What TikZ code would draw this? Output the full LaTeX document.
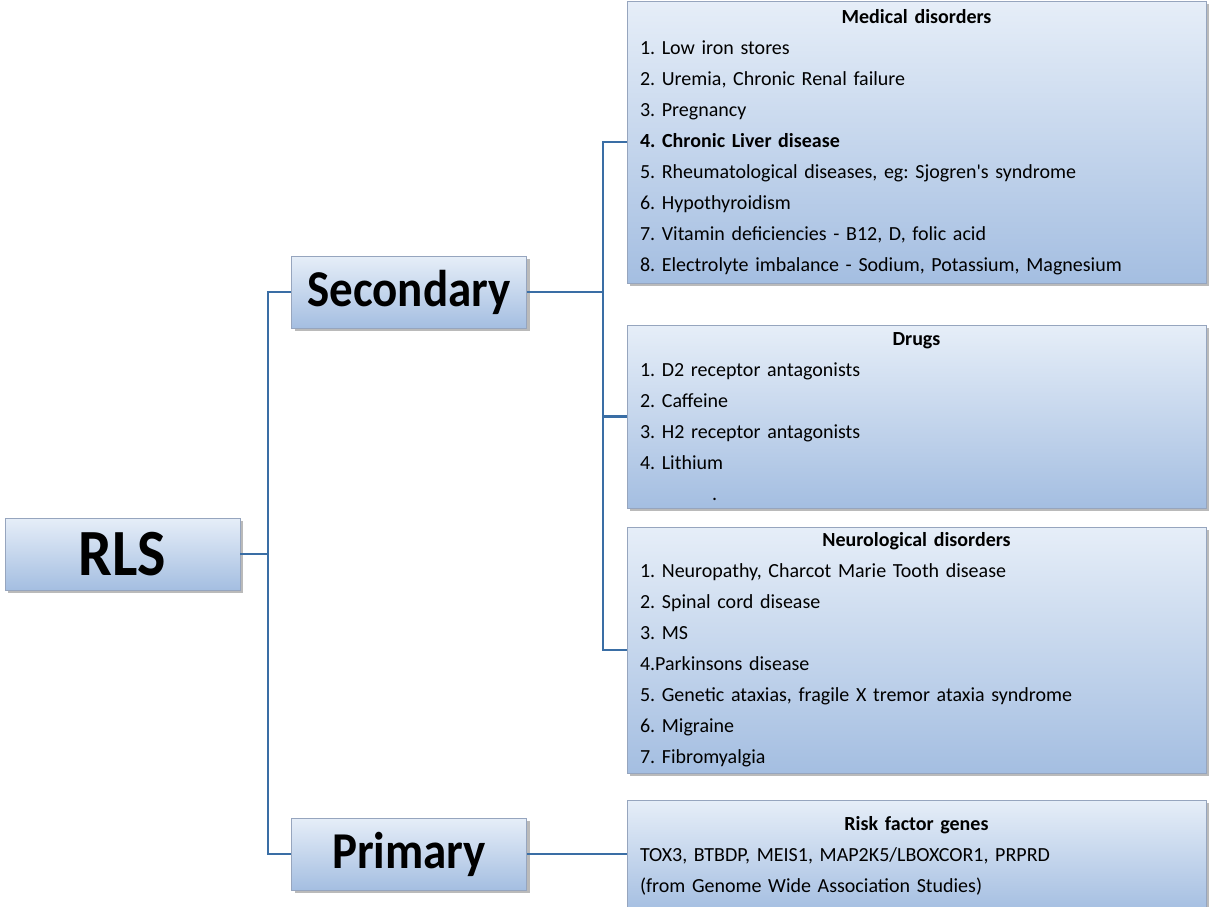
\documentclass[tikz,border=0pt]{standalone}
\usepackage{fontspec}
\setmainfont{Carlito}
\usetikzlibrary{shadows}

\definecolor{linkblue}{RGB}{58,110,165}
\definecolor{boxtop}{RGB}{230,238,248}
\definecolor{boxbot}{RGB}{164,190,225}
\definecolor{boxline}{RGB}{150,165,190}

\newcommand{\boxtitle}[1]{\makebox[\hsize]{\textbf{#1}}}
\newcommand{\biglabel}[1]{\scalebox{1}[1.1]{#1}}

\tikzset{
  box/.style={draw=boxline, top color=boxtop, bottom color=boxbot,
    drop shadow={shadow xshift=1.5pt, shadow yshift=-1.5pt, opacity=0.45, fill=black!60},
    minimum width=117.5pt, minimum height=36pt, inner sep=0pt},
  listbox/.style={box, minimum width=289.5pt, text width=276.5pt, align=left,
    font=\frenchspacing\fontsize{10}{15.5}\selectfont},
  link/.style={draw=linkblue, line width=1.3pt}
}

\begin{document}
\begin{tikzpicture}[x=0.5pt,y=-0.5pt]
    \useasboundingbox (0,0) rectangle (1210,906);
    \clip (0,0) rectangle (1210,906);
    % left column
    \node[box, font=\bfseries\fontsize{30}{34}\selectfont] (rls) at (122.5,554) {\biglabel{RLS}};
    \node[box, font=\bfseries\fontsize{23.5}{28}\selectfont] (sec) at (409,292) {\biglabel{Secondary}};
    \node[box, font=\bfseries\fontsize{23.5}{28}\selectfont] (pri) at (409,854) {\biglabel{Primary}};
    % right column
    \node[listbox, minimum height=141pt] (med) at (916.5,142) {\boxtitle{Medical disorders}\\
      1. Low iron stores\\
      2. Uremia, Chronic Renal failure\\
      3. Pregnancy\\
      \textbf{4. Chronic Liver disease}\\
      5. Rheumatological diseases, eg: Sjogren\textquotesingle s syndrome\\
      6. Hypothyroidism\\
      7. Vitamin deficiencies - B12, D, folic acid\\
      8. Electrolyte imbalance - Sodium, Potassium, Magnesium};
    \node[listbox, minimum height=91.5pt] (drugs) at (916.5,416.5) {\boxtitle{Drugs}\\
      1. D2 receptor antagonists\\
      2. Caffeine\\
      3. H2 receptor antagonists\\
      4. Lithium\\
      \hspace*{36pt}.};
    \node[listbox, minimum height=123pt] (neuro) at (916.5,650) {\boxtitle{Neurological disorders}\\
      1. Neuropathy, Charcot Marie Tooth disease\\
      2. Spinal cord disease\\
      3. MS\\
      4.Parkinsons disease\\
      5. Genetic ataxias, fragile X tremor ataxia syndrome\\
      6. Migraine\\
      7. Fibromyalgia};
    \node[listbox, minimum height=56pt] (risk) at (916.5,856) {\boxtitle{Risk factor genes}\\
      TOX3, BTBDP, MEIS1, MAP2K5/LBOXCOR1, PRPRD\\
      (from Genome Wide Association Studies)};
    % connectors
    \coordinate (j1) at (268,554);
    \coordinate (j2) at (603,292);
    \draw[link] (rls.east) -- (j1);
    \draw[link] (sec.west) -| (j1) |- (pri.west);
    \draw[link] (sec.east) -- (j2);
    \draw[link] (med.west) -| (j2) |- (neuro.west);
    \draw[link] (j2) |- (drugs.west);
    \draw[link] (pri.east) -- (pri.east -| risk.west);
\end{tikzpicture}
\end{document}
